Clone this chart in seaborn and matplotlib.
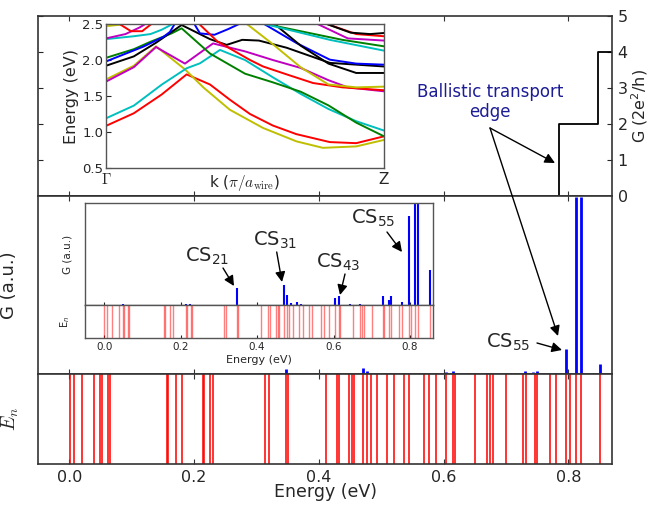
import numpy as np
import pandas as pd
import matplotlib
matplotlib.use("Agg")
import matplotlib.pyplot as plt
from matplotlib.patches import FancyArrowPatch
import seaborn as sns

# ---------------- data ----------------
# energies of the eigenlevels E_n (eV)
E_levels = [0.0005, 0.0085, 0.021, 0.040, 0.0497, 0.053, 0.062, 0.066,
            0.157, 0.159, 0.171, 0.180, 0.214, 0.216, 0.226, 0.230,
            0.314, 0.320, 0.347, 0.350, 0.411, 0.429, 0.433, 0.449, 0.454, 0.456,
            0.471, 0.477, 0.483, 0.494, 0.509, 0.520, 0.537, 0.544, 0.568, 0.576,
            0.588, 0.604, 0.615, 0.618, 0.651, 0.669, 0.675, 0.679, 0.700,
            0.728, 0.732, 0.746, 0.750, 0.770, 0.780, 0.797, 0.803, 0.813,
            0.821, 0.851]
# conductance peaks (energy, height in a.u.)
peak_E = [0.050, 0.213, 0.225, 0.348, 0.471, 0.477, 0.489, 0.504, 0.514,
          0.604, 0.615, 0.643, 0.669, 0.730, 0.744, 0.750, 0.779, 0.797,
          0.812, 0.821, 0.851]
peak_G = [0.0015, 0.0015, 0.0015, 0.026, 0.032, 0.0155, 0.0027, 0.0047,
          0.0023, 0.011, 0.0134, 0.0015, 0.0015, 0.0134, 0.008, 0.0134,
          0.005, 0.14, 0.99, 0.99, 0.055]
# ballistic conductance steps
step_E = [-0.05, 0.785, 0.848, 0.87]
step_G = [0, 2, 4, 4]

# band structure (k in units of pi/a_wire, E in eV)
red_1 = ([0, .1, .2, .29, .374, .445, .518, .6, .685, .805, .9, 1],
         [1.085, 1.26, 1.52, 1.80, 1.66, 1.45, 1.25, 1.09, 0.97, 0.86, 0.845, 0.94])
yellow_1 = ([0, .1, .18, .284, .35, .445, .565, .685, .78, .9, 1],
            [1.73, 1.92, 2.19, 1.87, 1.62, 1.31, 1.056, 0.87, 0.78, 0.80, 0.89])
magenta_1 = ([0, .1, .18, .284, .385, .5, .6, .7, .8, .87, 1],
             [1.70, 1.90, 2.18, 1.95, 2.23, 2.12, 2.0, 1.89, 1.72, 1.62, 1.565])
cyan_1 = ([0, .1, .2, .29, .338, .41, .5, .6, .7, .8, .9, 1],
          [1.19, 1.366, 1.657, 1.885, 1.954, 2.14, 2.0, 1.76, 1.53, 1.32, 1.15, 1.02])
green_1 = ([0, .1, .158, .236, .272, .374, .5, .6, .7, .8, .9, 1],
           [2.03, 2.15, 2.25, 2.37, 2.44, 2.09, 1.81, 1.69, 1.56, 1.37, 1.13, 0.94])
black_1 = ([0, .1, .18, .272, .374, .434, .49, .55, .65, .805, 1],
           [1.92, 2.05, 2.24, 2.486, 2.29, 2.21, 2.28, 2.27, 2.17, 1.96, 1.91])
blue_1 = ([0, .134, .206, .23, .25],
          [1.98, 2.185, 2.32, 2.39, 2.52])
blue_2 = ([0.31, 0.338, 0.39, 0.44, 0.49],
          [2.55, 2.37, 2.35, 2.43, 2.52])
blue_3 = ([0.56, 0.685, 0.805, 0.9, 1.0],
          [2.52, 2.236, 2.005, 1.95, 1.935])
black_2 = ([0.6, 0.7, 0.8, 0.9, 1.0],
           [2.52, 2.2, 1.95, 1.82, 1.82])
yellow_2 = ([0, .05, .08], [2.47, 2.49, 2.52])
cyan_2 = ([0, .1, .16, .2, .25], [2.29, 2.33, 2.36, 2.42, 2.52])
magenta_2 = ([0, .07, .12, .15], [2.30, 2.36, 2.45, 2.52])
red_2 = ([0.04, 0.09, 0.13, 0.17], [2.52, 2.40, 2.40, 2.52])
green_2 = ([0.55, .7, .85, 1], [2.52, 2.40, 2.28, 2.19])
cyan_3 = ([0.55, .805, 1], [2.52, 2.28, 2.13])
magenta_3 = ([0.75, .87, 1], [2.52, 2.30, 2.27])
red_3 = ([0.33, .4, .518, .565, .65, .745, .85, 1],
         [2.52, 2.26, 2.0, 1.91, 1.80, 1.68, 1.62, 1.58])
red_4 = ([0.78, .9, 1], [2.52, 2.36, 2.33])
black_3 = ([0.78, .88, .95, 1], [2.52, 2.38, 2.36, 2.375])
yellow_3 = ([0.5, .6, .7, .8, .9, 1], [2.52, 2.22, 1.9, 1.66, 1.62, 1.63])

bands = [("r", red_1), ("y", yellow_1), ("m", magenta_1), ("c", cyan_1),
         ("g", green_1), ("k", black_1), ("b", blue_1), ("b", blue_2),
         ("b", blue_3), ("k", black_2), ("y", yellow_2), ("c", cyan_2),
         ("m", magenta_2), ("r", red_2), ("g", green_2), ("c", cyan_3),
         ("m", magenta_3), ("r", red_3), ("r", red_4), ("k", black_3),
         ("y", yellow_3)]
classic = {"b": "#0000ff", "g": "#008000", "r": "#ff0000", "c": "#00bfbf",
           "m": "#bf00bf", "y": "#bfbf00", "k": "#000000"}

# ---------------- style ----------------
sns.set_style("ticks", {"xtick.direction": "in", "ytick.direction": "in",
                        "axes.edgecolor": "#333333"})
plt.rcParams["font.family"] = ["DejaVu Sans"]
plt.rcParams["mathtext.fontset"] = "cm"
plt.rcParams["axes.linewidth"] = 1.2
plt.rcParams["xtick.major.size"] = 3.5
plt.rcParams["ytick.major.size"] = 3.5

W, H = 652, 505
fig = plt.figure(figsize=(W / 100, H / 100), dpi=100)


def rect(l, t, r, b):
    return [l / W, 1 - b / H, (r - l) / W, (b - t) / H]


def ff(x, y):
    return (x / W, 1 - y / H)


xlim = (-0.05, 0.87)
ax_top = fig.add_axes(rect(38, 16, 612, 195.7))
ax_mid = fig.add_axes(rect(38, 195.7, 612, 373.7))
ax_bot = fig.add_axes(rect(38, 373.7, 612, 464))
ax_band = fig.add_axes(rect(106, 24, 384, 168))
ax_ig = fig.add_axes(rect(85, 203, 433, 305))
ax_ie = fig.add_axes(rect(85, 305, 433, 338))

xt = [0.0, 0.2, 0.4, 0.6, 0.8]
for ax in (ax_top, ax_mid, ax_bot):
    ax.set_xlim(*xlim)
    ax.set_xticks(xt)
    ax.tick_params(axis="x", top=True, bottom=True, direction="in",
                   labelbottom=False, color="#333333")

# --- top panel: ballistic steps ---
sns.lineplot(x=step_E, y=step_G, ax=ax_top, color="k", lw=1.3,
             drawstyle="steps-post", sort=False, estimator=None)
ax_top.set_ylim(0, 5)
ax_top.set_yticks([0, 1, 2, 3, 4, 5])
ax_top.yaxis.tick_right()
ax_top.tick_params(axis="y", left=True, right=True, labelleft=False,
                   labelright=True, labelsize=11.5, direction="in", pad=4)
ax_top.yaxis.set_label_position("right")
ax_top.set_ylabel("G (2e$^2$/h)", fontsize=11.5, rotation=90,
                  math_fontfamily="dejavusans")
ax_top.yaxis.set_label_coords(1.031, 0.5)

# --- middle panel: conductance spikes ---
ax_mid.vlines(peak_E, 0, peak_G, color="#0000ff", lw=2)
ax_mid.set_ylim(0, 1.0)
ax_mid.set_yticks([])
ax_mid.set_ylabel("G (a.u.)", fontsize=13)
ax_mid.yaxis.set_label_coords(-0.035, 0.5)

# --- bottom panel: levels ---
ax_bot.vlines(E_levels, 0, 1, color="#ff0000", lw=1.4, alpha=0.8)
ax_bot.set_ylim(0, 1)
ax_bot.set_yticks([])
ax_bot.tick_params(axis="x", labelbottom=True, labelsize=11.5, pad=4)
ax_bot.set_xlabel("Energy (eV)", fontsize=12.5, labelpad=-1)
ax_bot.set_ylabel("$E_n$", fontsize=14)
ax_bot.yaxis.set_label_coords(-0.03, 0.5)

# --- band-structure inset ---
rows = []
for i, (c, (kk, ee)) in enumerate(bands):
    for k, e in zip(kk, ee):
        rows.append({"band": i, "k": k, "E": e})
bdf = pd.DataFrame(rows)
pal = {i: classic[c] for i, (c, _) in enumerate(bands)}
sns.lineplot(data=bdf, x="k", y="E", hue="band", palette=pal, ax=ax_band,
             legend=False, estimator=None, lw=1.4)
ax_band.set_xlim(0, 1)
ax_band.set_ylim(0.5, 2.5)
ax_band.set_yticks([0.5, 1.0, 1.5, 2.0, 2.5])
ax_band.set_xticks([0, 1])
ax_band.set_xticklabels([r"$\Gamma$", "Z"], fontsize=11)
ax_band.tick_params(axis="y", labelsize=9.5, direction="in", pad=2)
ax_band.tick_params(axis="x", direction="in", length=0, pad=3)
ax_band.set_ylabel("Energy (eV)", fontsize=11.5, labelpad=2)
ax_band.set_xlabel(r"k ($\pi/a_{\rm wire}$)", fontsize=11)
ax_band.xaxis.set_label_coords(0.5, -0.035)
ax_band.xaxis.label.set_va("top")

# --- spectrum inset ---
inset_xlim = (-0.05, 0.86)
ax_ig.vlines(peak_E, 0, peak_G, color="#0000ff", lw=1.5)
ax_ig.set_xlim(*inset_xlim)
ax_ig.set_ylim(0, 0.16)
ax_ig.set_yticks([])
ax_ig.set_xticks(xt)
ax_ig.tick_params(axis="x", labelbottom=False, direction="in", length=2.5)
ax_ig.set_ylabel("G (a.u.)", fontsize=7.5)
ax_ig.yaxis.set_label_coords(-0.037, 0.5)

ax_ie.vlines(E_levels, 0, 1, color="#ff0000", lw=1.0, alpha=0.5)
ax_ie.set_xlim(*inset_xlim)
ax_ie.set_ylim(0, 1)
ax_ie.set_yticks([])
ax_ie.set_xticks(xt)
ax_ie.tick_params(axis="x", labelsize=7.5, direction="in", length=2.5, pad=3)
ax_ie.set_xlabel("Energy (eV)", fontsize=8, labelpad=2)
ax_ie.set_ylabel("E$_n$", fontsize=7, math_fontfamily="dejavusans")
ax_ie.yaxis.set_label_coords(-0.037, 0.5)

for ax in (ax_band, ax_ig, ax_ie):
    for s in ax.spines.values():
        s.set_linewidth(1.0)
        s.set_color("#555555")

# --- annotations ---
fig.text(*ff(490, 102), "Ballistic transport\nedge", color="#1c1c96",
         fontsize=12, ha="center", va="center", multialignment="center")


def arrow(tail, head):
    a = FancyArrowPatch(ff(*tail), ff(*head), transform=fig.transFigure,
                        arrowstyle="-|>", mutation_scale=15, color="k",
                        lw=1.0, shrinkA=0, shrinkB=0, zorder=20)
    fig.add_artist(a)


arrow((490, 128), (555, 163))
arrow((490, 128), (558, 336))

cs = [("CS$_{21}$", (206.7, 256.7), (223, 268), (234, 286)),
      ("CS$_{31}$", (275, 240), (276.7, 252), (282, 282)),
      ("CS$_{43}$", (338, 262), (345, 274), (340, 295)),
      ("CS$_{55}$", (373, 218), (387, 232), (402, 252)),
      ("CS$_{55}$", (508, 342), (537, 343), (562, 350))]
for lab, pos, tail, head in cs:
    fig.text(*ff(*pos), lab, fontsize=14, ha="center", va="center",
             math_fontfamily="dejavusans", zorder=20)
    arrow(tail, head)

fig.savefig("out.png", dpi=100)
